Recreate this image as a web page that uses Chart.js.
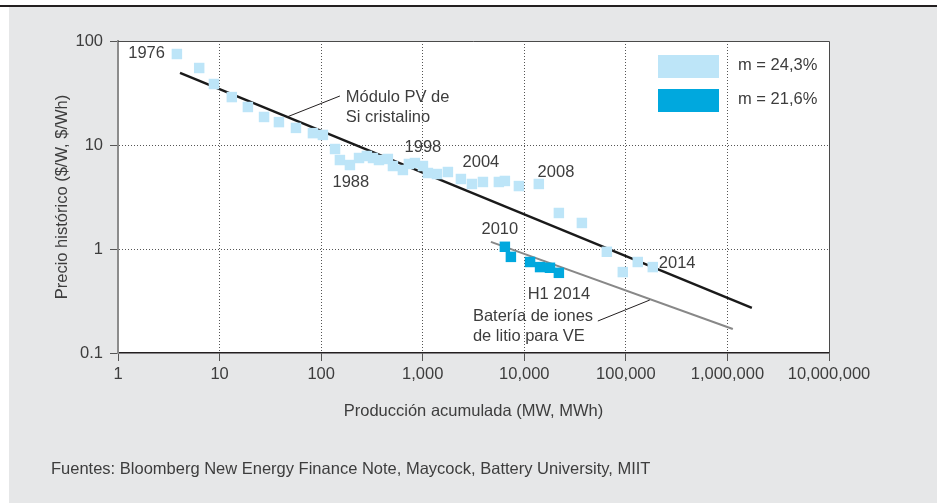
<!DOCTYPE html>
<html>
<head>
<meta charset="utf-8">
<script src="https://cdn.jsdelivr.net/npm/chart.js@4.4.0/dist/chart.umd.min.js"></script>
<style>
  html, body { margin: 0; padding: 0; background: #fff; }
  #wrap { width: 937px; height: 503px; }
</style>
</head>
<body>
<div id="wrap"><canvas id="myChart" width="937" height="503"></canvas></div>
<script>
// Curva de aprendizaje: módulos PV de Si cristalino vs baterías de iones de litio

// módulo PV (1976 -> 2014)
const moduleX = [3.8, 6.3, 8.8, 13.2, 19, 27.4, 38.4, 56.5, 83, 104, 137, 153, 192, 236, 282, 324, 371, 454, 509,
  638, 731, 838, 1005, 1125, 1380, 1770, 2377, 3050, 3915, 5620, 6440, 8850, 13900, 21900, 36900, 65000,
  93300, 131000, 184000];
const moduleY = [75, 55, 38.6, 28.9, 23.2, 18.6, 16.6, 14.6, 13, 12.5, 9.15, 7.17, 6.42, 7.5, 7.84, 7.5, 7.17, 7.34, 6.28,
  5.75, 6.57, 6.71, 6.28, 5.38, 5.26, 5.5, 4.71, 4.22, 4.41, 4.41, 4.51, 4.03, 4.22, 2.22, 1.78, 0.94,
  0.6, 0.75, 0.67];

// batería de iones de litio (2010 -> H1 2014)
const batteryX = [6440, 7380, 11400, 14300, 17900, 21900];
const batteryY = [1.05, 0.84, 0.75, 0.67, 0.66, 0.59];

// rectas de ajuste
const moduleFitX = [4.08, 1.74e6];
const moduleFitY = [49.3, 0.271];
const batteryFitX = [4690, 1.13e6];
const batteryFitY = [1.17, 0.17];

const seriesLabels = ['m = 24,3%', 'm = 21,6%'];
const xTicks = [1, 10, 100, 1000, 10000, 100000, 1000000, 10000000];
const yTicks = [0.1, 1, 10, 100];

// etiquetas de texto en coordenadas de datos
const yearLabels = [
  { text: '1976', x: 2.9, y: 76, align: 'right' },
  { text: '1988', x: 196, y: 4.35, align: 'center' },
  { text: '1998', x: 1005, y: 9.4, align: 'center' },
  { text: '2004', x: 3740, y: 6.87, align: 'center' },
  { text: '2008', x: 20500, y: 5.5, align: 'center' },
  { text: '2010', x: 5750, y: 1.53, align: 'center' },
  { text: 'H1 2014', x: 21900, y: 0.365, align: 'center' },
  { text: '2014', x: 211000, y: 0.72, align: 'left' },
];
const calloutText = [
  { lines: ['Módulo PV de', 'Si cristalino'], x: 175, y: [28.9, 18.6], from: [46.1, 18.6], to: [153, 29.6] },
  { lines: ['Batería de iones', 'de litio para VE'], x: 3120, y: [0.227, 0.143], from: [53000, 0.203], to: [172000, 0.323] },
];

const lightBlue = '#bde5f8';
const darkBlue = '#00a8de';
const textColor = '#3d3d3d';
const fontFamily = '"Liberation Sans", Arial, sans-serif';
const fontSize = 16.5;

const toPoints = (xs, ys) => xs.map((x, i) => ({ x: x, y: ys[i] }));

const panelPlugin = {
  id: 'panel',
  beforeDraw(chart) {
    const { ctx, chartArea: a } = chart;
    ctx.save();
    ctx.fillStyle = '#ffffff';
    ctx.fillRect(0, 0, chart.width, chart.height);
    ctx.fillStyle = '#231f20';
    ctx.fillRect(0, 5, chart.width, 2);
    ctx.fillStyle = '#e6e7e8';
    ctx.fillRect(9, 7, chart.width - 9, chart.height - 7);
    ctx.fillStyle = '#ffffff';
    ctx.fillRect(a.left, a.top, a.right - a.left, a.bottom - a.top);
    ctx.restore();
  },
  afterDraw(chart) {
    const { ctx, chartArea: a } = chart;
    const xs = chart.scales.x, ys = chart.scales.y;
    ctx.save();
    // marco superior y derecho
    ctx.strokeStyle = '#4a4a4a';
    ctx.lineWidth = 1;
    ctx.beginPath();
    ctx.moveTo(a.left, a.top + 0.5);
    ctx.lineTo(a.right + 0.5, a.top + 0.5);
    ctx.lineTo(a.right + 0.5, a.bottom);
    ctx.stroke();

    ctx.font = fontSize + 'px ' + fontFamily;
    ctx.fillStyle = textColor;
    ctx.textBaseline = 'middle';

    // leyenda
    const legendColors = [lightBlue, darkBlue];
    seriesLabels.forEach((label, i) => {
      const top = 55 + i * 34;
      ctx.fillStyle = legendColors[i];
      ctx.fillRect(658, top, 61, 23);
      ctx.fillStyle = textColor;
      ctx.textAlign = 'left';
      ctx.fillText(label, 738, top + 10);
    });

    // años
    yearLabels.forEach(l => {
      ctx.textAlign = l.align;
      ctx.fillText(l.text, xs.getPixelForValue(l.x), ys.getPixelForValue(l.y));
    });

    // llamadas
    calloutText.forEach(c => {
      ctx.textAlign = 'left';
      c.lines.forEach((t, i) => ctx.fillText(t, xs.getPixelForValue(c.x), ys.getPixelForValue(c.y[i])));
      ctx.strokeStyle = '#231f20';
      ctx.lineWidth = 1;
      ctx.beginPath();
      ctx.moveTo(xs.getPixelForValue(c.from[0]), ys.getPixelForValue(c.from[1]));
      ctx.lineTo(xs.getPixelForValue(c.to[0]), ys.getPixelForValue(c.to[1]));
      ctx.stroke();
    });

    // fuente
    ctx.textAlign = 'left';
    ctx.fillText('Fuentes: Bloomberg New Energy Finance Note, Maycock, Battery University, MIIT', 51, 469);
    ctx.restore();
  }
};

const edgeX = v => v === xTicks[0] || v === xTicks[xTicks.length - 1];
const edgeY = v => v === yTicks[0] || v === yTicks[yTicks.length - 1];

const ctx = document.getElementById('myChart').getContext('2d');
new Chart(ctx, {
  type: 'scatter',
  data: {
    datasets: [
      {
        label: seriesLabels[0],
        data: toPoints(moduleX, moduleY),
        pointStyle: 'rect',
        pointRadius: 7.4,
        backgroundColor: lightBlue,
        borderWidth: 0,
        order: 1,
      },
      {
        label: seriesLabels[1],
        data: toPoints(batteryX, batteryY),
        pointStyle: 'rect',
        pointRadius: 7.4,
        backgroundColor: darkBlue,
        borderWidth: 0,
        order: 1,
      },
      {
        label: 'ajuste PV',
        data: toPoints(moduleFitX, moduleFitY),
        showLine: true,
        pointRadius: 0,
        borderColor: '#1a1a1a',
        borderWidth: 2.4,
        order: 2,
      },
      {
        label: 'ajuste batería',
        data: toPoints(batteryFitX, batteryFitY),
        showLine: true,
        pointRadius: 0,
        borderColor: '#888888',
        borderWidth: 2,
        order: 2,
      },
    ],
  },
  options: {
    responsive: false,
    devicePixelRatio: 1,
    animation: false,
    layout: { padding: { left: 0, top: 41, right: 108, bottom: 0 } },
    plugins: {
      legend: { display: false },
      tooltip: { enabled: false },
    },
    scales: {
      x: {
        type: 'logarithmic',
        min: 1,
        max: 10000000,
        afterFit: (s) => { s.height = 150; },
        afterBuildTicks: (s) => { s.ticks = xTicks.map(v => ({ value: v })); },
        border: { display: true, color: '#231f20', width: 1.5, dash: [1, 2] },
        grid: {
          color: (c) => (c.tick && edgeX(c.tick.value)) ? 'rgba(0,0,0,0)' : '#555555',
          tickColor: '#555555',
          tickLength: 8,
          tickBorderDash: [],
          lineWidth: 1,
        },
        ticks: {
          color: textColor,
          font: { family: fontFamily, size: fontSize },
          padding: 4,
          maxRotation: 0,
          autoSkip: false,
          callback: (v) => Number(v).toLocaleString('en-US'),
        },
        title: {
          display: true,
          text: 'Producción acumulada (MW, MWh)',
          color: textColor,
          font: { family: fontFamily, size: fontSize },
          padding: { top: 0, bottom: 82 },
        },
      },
      y: {
        type: 'logarithmic',
        min: 0.1,
        max: 100,
        afterFit: (s) => { s.width = 118; },
        afterBuildTicks: (s) => { s.ticks = yTicks.map(v => ({ value: v })); },
        border: { display: true, color: '#8c8c8c', width: 2, dash: [1, 2] },
        grid: {
          color: (c) => (c.tick && edgeY(c.tick.value)) ? 'rgba(0,0,0,0)' : '#555555',
          tickColor: '#555555',
          tickLength: 8,
          tickBorderDash: [],
          lineWidth: 1,
        },
        ticks: {
          color: textColor,
          font: { family: fontFamily, size: fontSize },
          padding: 7,
          autoSkip: false,
          callback: (v) => String(v),
        },
        title: {
          display: true,
          text: 'Precio histórico ($/W, $/Wh)',
          color: textColor,
          font: { family: fontFamily, size: fontSize },
          padding: { top: 53, bottom: 0 },
        },
      },
    },
  },
  plugins: [panelPlugin],
});
</script>
</body>
</html>
